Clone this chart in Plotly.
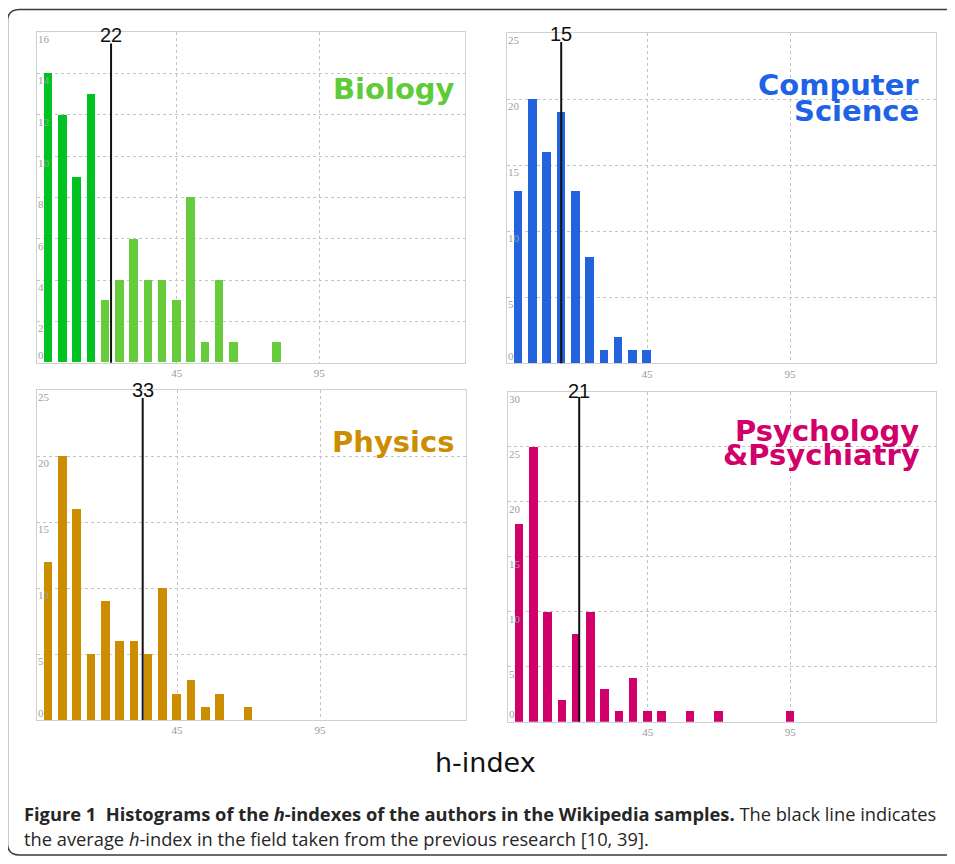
import plotly.graph_objects as go

# The page body has an 8px margin, so the figure is drawn 8px in from the window edge.
OFF = 8
W, H = 955 - 2 * OFF, 864 - 2 * OFF

# ---------------- data ----------------
bin_start = [0, 5, 10, 15, 20, 25, 30, 35, 40, 45, 50, 55, 60, 65, 70, 75, 80, 85, 90, 95]

biology_counts = [14, 12, 9, 13, 3, 4, 6, 4, 4, 3, 8, 1, 4, 1, 0, 0, 1]
cs_counts = [13, 20, 16, 19, 13, 8, 1, 2, 1, 1]
physics_counts = [12, 20, 16, 5, 9, 6, 6, 5, 10, 2, 3, 1, 2, 0, 1]
psych_counts = [18, 25, 10, 2, 8, 10, 3, 1, 4, 1, 1, 0, 1, 0, 1, 0, 0, 0, 0, 1]

field_names = ["Biology", "Computer Science", "Physics", "Psychology &Psychiatry"]
mean_h = [22, 15, 33, 21]

x_tick_vals = [45, 95]
x_tick_text = ["45", "95"]
biology_yticks = [0, 2, 4, 6, 8, 10, 12, 14, 16]
cs_yticks = [0, 5, 10, 15, 20, 25]
physics_yticks = [0, 5, 10, 15, 20, 25]
psych_yticks = [0, 5, 10, 15, 20, 25, 30]

x_title = "h-index"
caption_line1 = ("<b>Figure 1  Histograms of the <i>h</i>-indexes of the authors in the "
                 "Wikipedia samples.</b> The black line indicates")
caption_line2 = "the average <i>h</i>-index in the field taken from the previous research [10, 39]."

# ---------------- helpers (window pixels -> paper fractions) ----------------
def fx(px):
    return (px - OFF) / W

def fy(py):
    return 1 - (py - OFF) / H

def ytick_text(v):
    # the bottom label sits just above the axis line, the others just below their gridline
    return "0<br> <br> " if v == 0 else str(v)

panels = [
    dict(counts=biology_counts, yticks=biology_yticks, color="#66CC3C",
         xd=(37.3, 465.0), yd=(32.3, 362.7), label_y=35.0, line_top=43.5),
    dict(counts=cs_counts, yticks=cs_yticks, color="#2363DD",
         xd=(507.3, 936.0), yd=(33.3, 363.3), label_y=34.0, line_top=42.0),
    dict(counts=physics_counts, yticks=physics_yticks, color="#CC8E00",
         xd=(37.3, 466.0), yd=(390.0, 720.0), label_y=389.5, line_top=398.0),
    dict(counts=psych_counts, yticks=psych_yticks, color="#D1006B",
         xd=(508.3, 936.0), yd=(391.7, 721.7), label_y=390.7, line_top=397.0),
]

fig = go.Figure()
layout_axes = {}
shapes = []
annotations = []

for k, p in enumerate(panels):
    n = k + 1
    xa = "x" if n == 1 else f"x{n}"
    ya = "y" if n == 1 else f"y{n}"
    counts = p["counts"]
    xs = bin_start[:len(counts)]
    if k == 0:
        colors = ["#00C322" if i < 4 else p["color"] for i in range(len(counts))]
    else:
        colors = p["color"]
    fig.add_trace(go.Bar(
        x=xs, y=counts, width=3.0, xaxis=xa, yaxis=ya,
        marker=dict(color=colors, line=dict(width=0)),
        showlegend=False, hoverinfo="x+y",
    ))
    ymax = p["yticks"][-1]
    common_line = dict(showline=True, linecolor="#d0d0d0", linewidth=1, mirror=True,
                       showgrid=True, gridcolor="#c4c4c4", griddash="dot", gridwidth=1,
                       zeroline=False, ticks="", automargin=False)
    layout_axes["xaxis" if n == 1 else f"xaxis{n}"] = dict(
        domain=[fx(p["xd"][0]), fx(p["xd"][1])], anchor=ya,
        range=[-3.85, 146.05], tickvals=x_tick_vals, ticktext=x_tick_text,
        tickfont=dict(family="Liberation Serif", size=11, color="#9a9a9a"),
        ticklabelstandoff=0, **common_line)
    layout_axes["yaxis" if n == 1 else f"yaxis{n}"] = dict(
        domain=[fy(p["yd"][1]), fy(p["yd"][0])], anchor=xa,
        range=[0, ymax], tickvals=p["yticks"], ticktext=[ytick_text(v) for v in p["yticks"]],
        ticklabelposition="inside", ticklabelshift=7, ticklabeloverflow="allow",
        tickfont=dict(family="Liberation Serif", size=11, color="#a0a0a0"),
        **common_line)
    # mean line
    shapes.append(dict(type="line", xref=xa, yref="paper",
                       x0=mean_h[k], x1=mean_h[k], y0=fy(p["yd"][1]), y1=fy(p["line_top"]),
                       line=dict(color="#111111", width=2)))
    annotations.append(dict(xref=xa, yref="paper", x=mean_h[k], y=fy(p["label_y"]),
                            text=str(mean_h[k]), showarrow=False, xanchor="center",
                            yanchor="middle",
                            font=dict(family="Liberation Sans", size=20, color="#111111")))

# panel titles
title_font = dict(family="DejaVu Sans", size=29)
title_specs = [
    ("<b>Biology</b>", 457, 89.3, "#5FCB39"),
    ("<b>Computer</b>", 921, 85.0, "#1E63E6"),
    ("<b>Science</b>", 921, 110.7, "#1E63E6"),
    ("<b>Physics</b>", 456, 441.7, "#CC8E00"),
    ("<b>Psychology</b>", 921, 431.0, "#D1006B"),
    ("<b>&amp;Psychiatry</b>", 922, 455.0, "#D1006B"),
]
for txt, xr, yc, col in title_specs:
    annotations.append(dict(xref="paper", yref="paper", x=fx(xr), y=fy(yc), text=txt,
                            showarrow=False, xanchor="right", yanchor="middle",
                            font=dict(color=col, **title_font)))

# x-axis title
annotations.append(dict(xref="paper", yref="paper", x=fx(485), y=fy(762), text=x_title,
                        showarrow=False, xanchor="center", yanchor="middle",
                        font=dict(family="DejaVu Sans", size=27, color="#111111")))

# caption
annotations.append(dict(xref="paper", yref="paper", x=fx(22), y=fy(813), text=caption_line1,
                        showarrow=False, xanchor="left", yanchor="middle", align="left",
                        font=dict(family="Open Sans", size=18.3, color="#262626")))
annotations.append(dict(xref="paper", yref="paper", x=fx(22), y=fy(838), text=caption_line2,
                        showarrow=False, xanchor="left", yanchor="middle", align="left",
                        font=dict(family="Open Sans", size=18.3, color="#262626")))

# rounded outer frame
r = 12
L, T, B, R = 7.5, 9.5, 855.0, 970.0
path = (f"M {fx(R)},{fy(T)} L {fx(L + r)},{fy(T)} Q {fx(L)},{fy(T)} {fx(L)},{fy(T + r)} "
        f"L {fx(L)},{fy(B - r)} Q {fx(L)},{fy(B)} {fx(L + r)},{fy(B)} L {fx(R)},{fy(B)}")
shapes.append(dict(type="path", xref="paper", yref="paper", path=path,
                   line=dict(color="#3a3a3a", width=1.5)))

fig.update_layout(
    width=W, height=H, margin=dict(l=0, r=0, t=0, b=0, autoexpand=False),
    paper_bgcolor="white", plot_bgcolor="white",
    bargap=0, shapes=shapes, annotations=annotations,
    **layout_axes,
)

fig.write_html("out.html")
